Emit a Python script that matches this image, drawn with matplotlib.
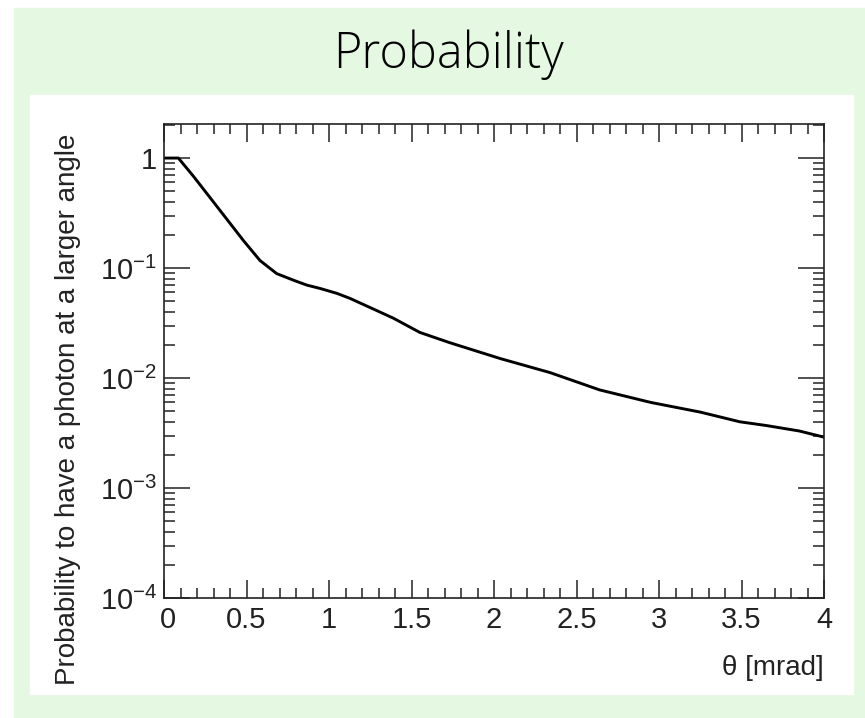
import numpy as np
import matplotlib
matplotlib.use("Agg")
import matplotlib.pyplot as plt
import matplotlib.transforms as mtransforms
from matplotlib.patches import Rectangle
from matplotlib.ticker import MultipleLocator, LogLocator, NullFormatter, FixedLocator

# values (theta in mrad, probability)
theta = [0.0, 0.087, 0.178, 0.279, 0.380, 0.481, 0.582, 0.683, 0.784, 0.865, 0.945,
         1.047, 1.127, 1.19, 1.29, 1.39, 1.55, 1.73, 2.04, 2.34, 2.64, 2.95, 3.25,
         3.49, 3.65, 3.85, 4.0]
prob = [1.0, 1.0, 0.684, 0.437, 0.279, 0.178, 0.117, 0.089, 0.0776, 0.070, 0.0653,
        0.0589, 0.053, 0.048, 0.041, 0.035, 0.026, 0.021, 0.015, 0.0112, 0.0078, 0.0060,
        0.0049, 0.0040, 0.0037, 0.0033, 0.0029]

x_ticks = [0, 0.5, 1, 1.5, 2, 2.5, 3, 3.5, 4]
x_labels = ["0", "0.5", "1", "1.5", "2", "2.5", "3", "3.5", "4"]
y_ticks = [1e-4, 1e-3, 1e-2, 1e-1, 1]
y_labels = [r"$\mathregular{10^{-4}}$", r"$\mathregular{10^{-3}}$",
            r"$\mathregular{10^{-2}}$", r"$\mathregular{10^{-1}}$", "1"]

plt.rcParams["mathtext.fontset"] = "custom"
plt.rcParams["mathtext.rm"] = "Liberation Sans"
plt.rcParams["mathtext.it"] = "Liberation Sans:italic"
plt.rcParams["mathtext.bf"] = "Liberation Sans:bold"
plt.rcParams["font.family"] = "Liberation Sans"

W, H = 865, 718
fig = plt.figure(figsize=(W / 100, H / 100), dpi=100)
fig.patch.set_facecolor("white")

def px_rect(x0, y0, x1, y1, color):
    # rectangle given in pixel coords from top-left
    fig.patches.append(Rectangle((x0 / W, 1 - y1 / H), (x1 - x0) / W, (y1 - y0) / H,
                                 transform=fig.transFigure, color=color, zorder=-10))

green = "#e5f8e1"
px_rect(14, 8, W, H, green)
px_rect(30, 95, 853, 694, "white")

fig.text(449 / W, 1 - 68 / H, "Probability", ha="center", va="baseline",
         fontsize=35, family="Open Sans", weight="light", color="black")

ax = fig.add_axes([164 / W, 1 - 598 / H, (824 - 164) / W, (598 - 124) / H])
ax.plot(theta, prob, color="black", lw=2.1)
ax.set_yscale("log")
ax.set_xlim(0, 4)
ax.set_ylim(1e-4, 2.04)

for s in ax.spines.values():
    s.set_linewidth(1.2)
    s.set_color("#222222")

ax.xaxis.set_major_locator(FixedLocator(x_ticks))
ax.set_xticklabels(x_labels)
ax.xaxis.set_minor_locator(MultipleLocator(0.1))
ax.yaxis.set_major_locator(FixedLocator(y_ticks))
ax.set_yticklabels(y_labels)
ax.yaxis.set_minor_locator(LogLocator(base=10, subs=np.arange(2, 10), numticks=20))
ax.yaxis.set_minor_formatter(NullFormatter())

ax.tick_params(axis="both", which="both", direction="in", top=True, right=True,
               color="#222222", width=1.1, labelcolor="#222222")
ax.tick_params(axis="x", which="major", length=13, pad=6, labelsize=21)
ax.tick_params(axis="x", which="minor", length=7)
ax.tick_params(axis="y", which="major", length=19, pad=5, labelsize=21)
ax.tick_params(axis="y", which="minor", length=8)

# nudge the "0" label right so it clears the 10^-4 label, as in the reference
zero_lab = ax.get_xticklabels()[0]
zero_lab.set_transform(zero_lab.get_transform() +
                       mtransforms.ScaledTranslation(4 / 100, 0, fig.dpi_scale_trans))

fig.text(68 / W, 1 - 409 / H, "Probability to have a photon at a larger angle",
         rotation=90, ha="center", va="center", fontsize=20, color="#222222")
fig.text(824 / W, 1 - 668 / H, "θ [mrad]", ha="right", va="center",
         fontsize=20, color="#222222")

fig.savefig("out.png", dpi=100)
